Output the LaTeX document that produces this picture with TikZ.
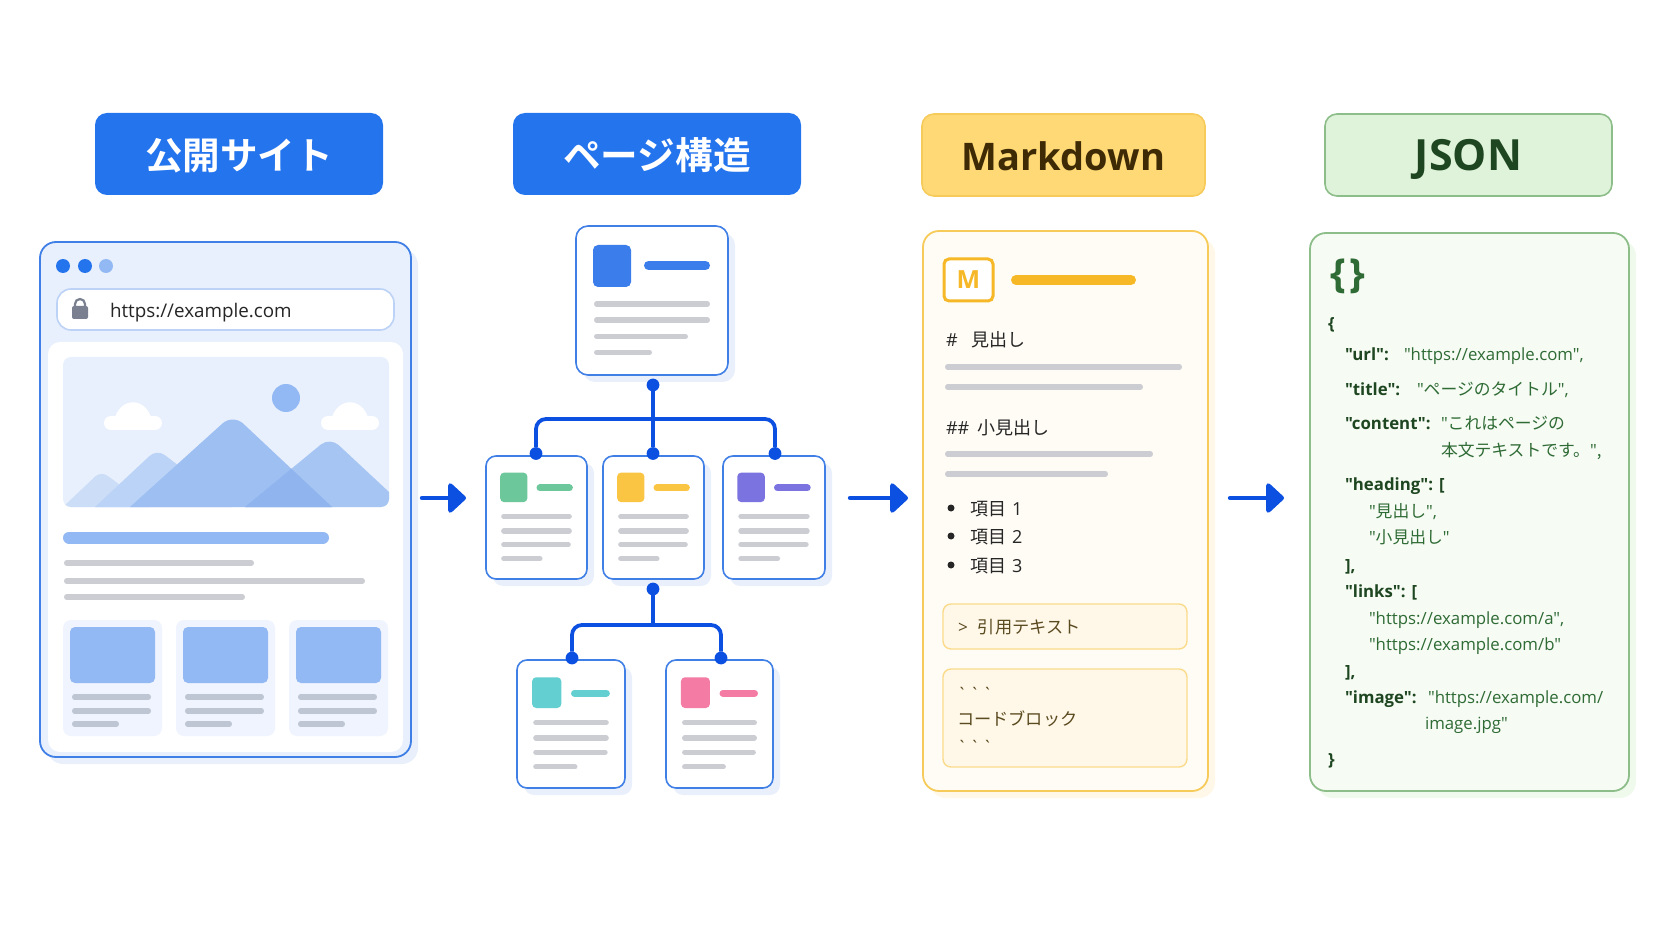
\documentclass[tikz,border=0pt]{standalone}
\usepackage{fontspec}
\setmainfont{Open Sans}[Ligatures=TeXOff]
\newfontfamily\jpfont[BoldFont={Noto Sans CJK JP Bold}]{Noto Sans CJK JP}
\newfontfamily\fencefont{Open Sans}
\usetikzlibrary{arrows.meta,shadows}
\definecolor{headblue}{HTML}{2474EE}
\definecolor{cardblue}{HTML}{3F7FE6}
\definecolor{paleblue}{HTML}{E8F0FD}
\definecolor{shadeblue}{HTML}{E9F0FB}
\definecolor{midblue}{HTML}{92B9F3}
\definecolor{mtna}{HTML}{CCDDF8}
\definecolor{mtnb}{HTML}{BBD3F6}
\definecolor{mtnc}{HTML}{9DBFF2}
\definecolor{mtnd}{HTML}{A6C5F3}
\definecolor{mtne}{HTML}{8FB4EE}
\definecolor{linkblue}{HTML}{0B50E0}
\definecolor{linegray}{HTML}{CBCDD2}
\definecolor{cardgray}{HTML}{BFC6D3}
\definecolor{lockgray}{HTML}{7A8090}
\definecolor{tagblue}{HTML}{3B7DEA}
\definecolor{taggreen}{HTML}{6CC79A}
\definecolor{tagyellow}{HTML}{FBC544}
\definecolor{tagpurple}{HTML}{7B73E0}
\definecolor{tagteal}{HTML}{63CFD0}
\definecolor{tagpink}{HTML}{F47BA3}
\definecolor{mdhead}{HTML}{FFD976}
\definecolor{mdedge}{HTML}{F7CB5A}
\definecolor{mdpale}{HTML}{FFFCF5}
\definecolor{mdquote}{HTML}{FFF8E8}
\definecolor{mdorange}{HTML}{F6B826}
\definecolor{mdtitle}{HTML}{3E2A05}
\definecolor{mdbody}{HTML}{5A4A20}
\definecolor{jsonhead}{HTML}{DFF3DA}
\definecolor{jsonedge}{HTML}{8DBE8A}
\definecolor{jsonpale}{HTML}{F6FBF4}
\definecolor{jsonkey}{HTML}{1E4620}
\definecolor{jsonval}{HTML}{2F6B35}
\newcommand{\fs}[1]{\fontsize{#1}{#1}\selectfont}
\newcommand{\panel}[7]{%
  \pgfmathsetmacro\pw{(#5-#3)*0.5}%
  \pgfmathsetmacro\ph{(#6-#4)*0.5}%
  \node[#1,minimum width=\pw pt,minimum height=\ph pt] (#2) at ({(#3+#5)/2},{(#4+#6)/2}) {#7};}
\newcommand{\pagecard}[6]{%
  \panel{cardbox}{#1}{#2}{#3}{#4}{#5}{}
  \begin{scope}[shift={(#2,#3)},xscale={#4-#2},yscale={#5-#3}]
    \fill[#6,rounded corners=2pt] (.14,.135) rectangle (.41,.375);
    \draw[cbar,#6] (.5,.26) -- (.86,.26);
    \foreach \ly/\lx in {.49/.85,.61/.85,.72/.84,.835/.56}
      \draw[gline] (.15,\ly) -- (\lx,\ly);
  \end{scope}}
\begin{document}
\begin{tikzpicture}[x=0.5pt,y=-0.5pt,
  every node/.style={inner sep=0pt,outer sep=0pt},
  headbox/.style={rounded corners=6pt,font=\fs{18.8}\bfseries,text height=15.5pt,text depth=0pt},
  headb/.style={headbox,fill=headblue,text=white},
  headm/.style={headbox,fill=mdhead,draw=mdedge,line width=.8pt,text=mdtitle},
  headj/.style={headbox,fill=jsonhead,draw=jsonedge,line width=.8pt,text=jsonkey},
  cardbox/.style={draw=cardblue,fill=white,line width=.8pt,rounded corners=5pt,
    drop shadow={shadow xshift=3.5pt,shadow yshift=-3.5pt,fill=shadeblue,opacity=1}},
  gline/.style={draw=linegray,line width=2.6pt,line cap=round,shorten <=1.3pt,shorten >=1.3pt},
  cline/.style={gline,draw=cardgray},
  cbar/.style={line width=3.5pt,line cap=round,shorten <=1.75pt,shorten >=1.75pt},
  dot/.style={circle,fill=linkblue,minimum size=6.4pt},
  link/.style={draw=linkblue,line width=1.9pt,rounded corners=5pt},
  flow/.style={draw=linkblue,fill=linkblue,line width=2.2pt,line cap=round,
    -{Triangle[length=9.5pt,width=17pt,round]}},
  txt/.style={anchor=west,text height=9.2pt,text depth=2pt},
  md/.style={txt,font=\fs{9},text=black!85},
  mdq/.style={txt,font=\fs{8.6},text=mdbody},
  js/.style={txt,text height=8.4pt,font=\fs{8.4},text=jsonval},
  jk/.style={js,font=\fs{8.4}\bfseries,text=jsonkey}]
\useasboundingbox (0,0) rectangle (1672,941);

\panel{headb}{headsite}{95}{113}{383}{195}{\jpfont 公開サイト}
\panel{headb}{headpage}{513}{113}{801}{195}{\jpfont ページ構造}
\panel{headm}{headmd}{922}{114}{1205}{196}{\fs{19}Markdown}
\panel{headj}{headjson}{1325}{114}{1612}{196}{\fs{21.5}JSON}

\panel{draw=cardblue,fill=paleblue,line width=.9pt,rounded corners=8pt,drop shadow={shadow xshift=3.5pt,shadow yshift=-3.5pt,fill=shadeblue,opacity=1}}{browser}{40}{242}{411}{757}{}
\fill[headblue] (63,266) circle [radius=7];
\fill[headblue] (85,266) circle [radius=7];
\fill[midblue] (106,266) circle [radius=7];
\panel{draw=cardblue!35,fill=white,line width=.8pt,rounded corners=7pt}{urlbar}{57}{289}{394}{330}{}
\draw[lockgray,line width=1.1pt] (75,308) -- (75,304) arc (180:360:5) -- (85,308);
\fill[lockgray,rounded corners=1pt] (72,306) rectangle (88,319);
\node[txt,font=\fs{9.4},text=black!85] (urltext) at (110,310) {https://example.com};
\panel{fill=white,rounded corners=6pt}{content}{48}{342}{403}{752}{}

\panel{fill=paleblue,rounded corners=4pt}{hero}{63}{357}{389}{507}{}
\begin{scope}
\clip[rounded corners=4pt] (63,357) rectangle (389,507);
\fill[midblue] (286,398) circle [radius=14];
\foreach \cx in {0,217} {
  \fill[white,rounded corners=3.5pt] (104+\cx,416) rectangle (162+\cx,430);
  \fill[white] (113+\cx,430) .. controls (113+\cx,393) and (153+\cx,393) .. (153+\cx,430) -- cycle;
}
\fill[mtna] (63,507) [rounded corners=4pt] -- (101,471) [sharp corners] -- (150,507) -- cycle;
\fill[mtnb] (95,507) [rounded corners=5pt] -- (157,449) [sharp corners] -- (232,507) -- cycle;
\fill[mtnd] (245,507) [rounded corners=6pt] -- (330,437) [sharp corners] -- (389,492) -- (389,507) -- cycle;
\fill[mtnc] (130,507) [rounded corners=7pt] -- (233,414) [sharp corners] -- (332,507) -- cycle;
\begin{scope}
\clip (130,507) -- (233,414) -- (332,507) -- cycle;
\fill[mtne] (245,507) -- (330,437) -- (389,492) -- (389,507) -- cycle;
\end{scope}
\end{scope}

\draw[line width=6pt,line cap=round,draw=midblue,shorten <=3pt,shorten >=3pt] (63,537.5) -- (329,537.5);
\draw[gline] (64,563) -- (254,563);
\draw[gline] (64,581) -- (365,581);
\draw[gline] (64,597) -- (245,597);
\foreach \cx/\nm in {63/a,176/b,289/c} {
  \panel{fill=paleblue!70,rounded corners=4pt}{thumb\nm}{\cx}{620}{\cx+99}{736}{}
  \fill[midblue,rounded corners=2.5pt] (\cx+7,627) rectangle (\cx+92,683);
  \draw[cline] (\cx+9,697) -- (\cx+88,697);
  \draw[cline] (\cx+9,711) -- (\cx+88,711);
  \draw[cline] (\cx+9,724) -- (\cx+56,724);
}

\panel{cardbox,rounded corners=6pt}{pagetop}{576}{226}{728}{375}{}
\fill[tagblue,rounded corners=2.5pt] (593,245) rectangle (631,287);
\draw[cbar,line width=4.5pt,shorten <=2.25pt,shorten >=2.25pt,tagblue] (644,265.5) -- (710,265.5);
\draw[gline] (594,304) -- (710,304);
\draw[gline] (594,320) -- (710,320);
\draw[gline] (594,336.5) -- (688,336.5);
\draw[gline] (594,352.5) -- (652,352.5);

\pagecard{pagea}{486}{456}{587}{579}{taggreen}
\pagecard{pageb}{603}{456}{704}{579}{tagyellow}
\pagecard{pagec}{723}{456}{825}{579}{tagpurple}
\pagecard{paged}{517}{660}{625}{788}{tagteal}
\pagecard{pagee}{666}{660}{773}{788}{tagpink}

\coordinate (jointa) at (653,419);
\coordinate (jointb) at (653,625);
\node[dot] (dottop) at (653,385) {};
\node[dot] (dota) at (536,453.5) {};
\node[dot] (dotb) at (653,453.5) {};
\node[dot] (dotc) at (775,453.5) {};
\node[dot] (dotmid) at (653,589) {};
\node[dot] (dotd) at (572,658) {};
\node[dot] (dote) at (721,658) {};
\draw[link] (dottop) -- (dotb);
\draw[link] (dota) |- (jointa) -| (dotc);
\draw[link] (dotmid) -- (jointb);
\draw[link] (dotd) |- (jointb) -| (dote);

\coordinate (flowa) at (422,498);
\coordinate (flowab) at (466,498);
\coordinate (flowb) at (850,498);
\coordinate (flowbb) at (908,498);
\coordinate (flowc) at (1230,498);
\coordinate (flowcb) at (1284,498);
\draw[flow] (flowa) -- (flowab);
\draw[flow] (flowb) -- (flowbb);
\draw[flow] (flowc) -- (flowcb);

\panel{draw=mdedge,fill=mdpale,line width=.9pt,rounded corners=8pt,drop shadow={shadow xshift=3.5pt,shadow yshift=-3.5pt,fill=mdquote,opacity=1}}{mdcard}{923}{231}{1208}{791}{}
\panel{draw=mdorange,fill=white,line width=1.5pt,rounded corners=2.5pt,text=mdorange,font=\fs{12.5}\bfseries}{mdicon}{944}{259}{993}{301}{M}
\draw[cbar,mdorange,line width=5pt,shorten <=2.5pt,shorten >=2.5pt] (1011,280) -- (1136,280);
\node[md] (mdh) at (946,339) {\#\hspace{7pt}{\jpfont 見出し}};
\draw[gline] (945,367) -- (1182,367);
\draw[gline] (945,387) -- (1143,387);
\node[md] (mdhh) at (946,427) {\#\#\hspace{4pt}{\jpfont 小見出し}};
\draw[gline] (945,454) -- (1153,454);
\draw[gline] (945,474) -- (1108,474);
\foreach \ly/\li in {508/1,536/2,565/3} {
  \fill[black!85] (951,\ly) circle [radius=3.5];
  \node[md] (mditem\li) at (970,\ly) {{\jpfont 項目}\hspace{3pt}\li};
}
\panel{draw=mdedge!70,fill=mdquote,line width=.7pt,rounded corners=4pt}{mdquotebox}{943}{604}{1187}{649}{}
\node[mdq] (mdquotetext) at (958,626.5) {>\hspace{5pt}{\jpfont 引用テキスト}};
\panel{draw=mdedge!70,fill=mdquote,line width=.7pt,rounded corners=4pt}{mdcode}{943}{669}{1187}{767}{}
\node[mdq] (mdfencea) at (957,693) {\fencefont\char96\,\char96\,\char96};
\node[mdq] (mdcodetext) at (957,718) {\jpfont コードブロック};
\node[mdq] (mdfenceb) at (957,746) {\fencefont\char96\,\char96\,\char96};

\panel{draw=jsonedge,fill=jsonpale,line width=.9pt,rounded corners=8pt,drop shadow={shadow xshift=3.5pt,shadow yshift=-3.5pt,fill=jsonhead!50,opacity=1}}{jsoncard}{1310}{233}{1629}{791}{}
\node[anchor=west,font=\fs{20}\bfseries,text=jsonval] (jsonicon) at (1330,276) {\{\hspace{2pt}\}};
\node[jk] (ja) at (1328,323) {\{};
\node[jk] (jb) at (1345,354) {"url":};
\node[js] (jbv) at (1404,354) {"https://example.com",};
\node[jk] (jc) at (1345,389) {"title":};
\node[js] (jcv) at (1417,389) {"{\jpfont ページのタイトル}",};
\node[jk] (jd) at (1345,423) {"content":};
\node[js] (jdv) at (1441,423) {"{\jpfont これはページの}};
\node[js] (jdw) at (1441,450) {\jpfont 本文テキストです。{\rmfamily "},};
\node[jk] (je) at (1345,484) {"heading":\hspace{3pt}[};
\node[js] (jf) at (1369,511) {"{\jpfont 見出し}",};
\node[js] (jg) at (1369,537) {"{\jpfont 小見出し}"};
\node[jk] (jh) at (1345,565) {],};
\node[jk] (ji) at (1345,591) {"links":\hspace{3pt}[};
\node[js] (jj) at (1369,618) {"https://example.com/a",};
\node[js] (jjb) at (1369,644) {"https://example.com/b"};
\node[jk] (jl) at (1345,671) {],};
\node[jk] (jm) at (1345,697) {"image":};
\node[js] (jmv) at (1428,697) {"https://example.com/};
\node[js] (jn) at (1425,723) {image.jpg"};
\node[jk] (jo) at (1328,759) {\}};
\end{tikzpicture}
\end{document}
